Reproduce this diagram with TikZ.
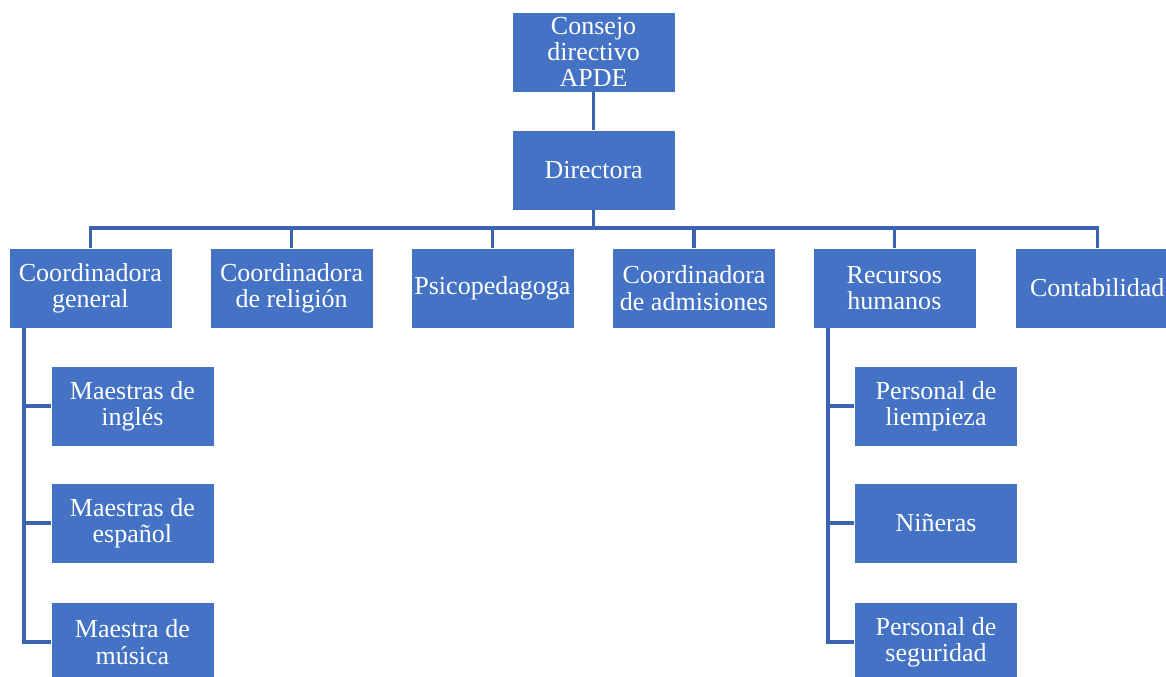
\documentclass[tikz,border=0pt]{standalone}
\usepackage{fontspec}
\setmainfont{LiberationSerif}[Extension=.ttf, UprightFont=*-Regular, BoldFont=*-Bold, ItalicFont=*-Italic, BoldItalicFont=*-BoldItalic]
\usepackage{xcolor}
\usepackage{tikz}

\definecolor{boxblue}{HTML}{4472C4}
\definecolor{lineblue}{HTML}{3B64B0}

\begin{document}
\begin{tikzpicture}[
    unit/.style={rectangle, draw=white, line width=0.5pt, fill=boxblue, text=white, minimum width=4.075cm, minimum height=2cm, inner sep=1pt, align=center, font=\fontsize{18.5}{18.7}\selectfont},
    link/.style={draw=lineblue, line width=2.2pt}
]
\useasboundingbox (0,0) rectangle (29.15,-16.925);
\node[unit] (cons) at (14.84, -1.3) {Consejo\\directivo\\APDE};
\node[unit] (dir) at (14.84, -4.25) {Directora};
\node[unit] (cgen) at (2.26, -7.2) {Coordinadora\\general};
\node[unit] (crel) at (7.29, -7.2) {Coordinadora\\de religión};
\node[unit] (psi) at (12.31, -7.2) {Psicopedagoga};
\node[unit] (cadm) at (17.35, -7.2) {Coordinadora\\de admisiones};
\node[unit] (rh) at (22.36, -7.2) {Recursos\\humanos};
\node[unit] (cont) at (27.43, -7.2) {Contabilidad};
\node[unit] (mingl) at (3.31, -10.15) {Maestras de\\inglés};
\node[unit] (mesp) at (3.31, -13.075) {Maestras de\\español};
\node[unit] (mmus) at (3.31, -16.05) {Maestra de\\música};
\node[unit] (plim) at (23.4, -10.15) {Personal de\\liempieza};
\node[unit] (nin) at (23.4, -13.075) {Niñeras};
\node[unit] (pseg) at (23.4, -16.05) {Personal de\\seguridad};
\coordinate (bus) at (0, -5.7);
\coordinate (trunkl) at (0.6, 0);
\coordinate (trunkr) at (20.7, 0);
\draw[link] (cons) -- (dir);
\foreach \n in {cgen, crel, psi, cadm, rh, cont}
    \draw[link] (dir.south) -- (dir |- bus) -| (\n.north);
\foreach \n in {mingl, mesp, mmus}
    \draw[link] (cgen.south -| trunkl) |- (\n.west);
\foreach \n in {plim, nin, pseg}
    \draw[link] (rh.south -| trunkr) |- (\n.west);
\end{tikzpicture}
\end{document}
